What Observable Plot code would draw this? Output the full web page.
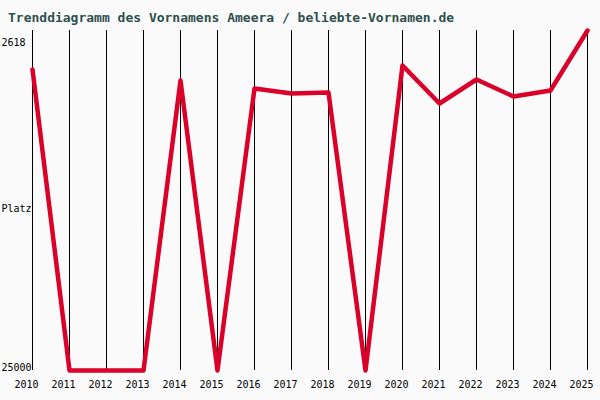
<!DOCTYPE html>
<html>
<head>
<meta charset="utf-8">
<script src="https://cdn.jsdelivr.net/npm/d3@7"></script>
<script src="https://cdn.jsdelivr.net/npm/@observablehq/plot@0.6"></script>
<style>
  html, body { margin: 0; padding: 0; background: #fafafa; }
  #wrap { width: 600px; height: 400px; overflow: hidden; background: #fafafa; }
  #title {
    box-sizing: border-box;
    height: 28px;
    padding: 11px 0 0 8px;
    font-family: "DejaVu Sans Mono", monospace;
    font-size: 13px;
    line-height: 13px;
    font-weight: bold;
    color: #2f4f4f;
    white-space: nowrap;
  }
  #chart svg { display: block; }
</style>
</head>
<body>
<div id="wrap">
  <div id="title"></div>
  <div id="chart"></div>
</div>
<script>
const titleText = "Trenddiagramm des Vornamens Ameera / beliebte-Vornamen.de";
const years = [2010, 2011, 2012, 2013, 2014, 2015, 2016, 2017, 2018, 2019, 2020, 2021, 2022, 2023, 2024, 2025];
const ranks = [5185, 25000, 25000, 25000, 5909, 25000, 6436, 6765, 6699, 25000, 4922, 7424, 5844, 6963, 6568, 2618];
const yTopValue = 2618;
const yBottomValue = 25000;
const yTopLabel = "2618";
const yBottomLabel = "25000";
const yAxisTitle = "Platz";

document.getElementById("title").textContent = titleText;

const data = years.map((year, i) => ({year, rank: ranks[i]}));

const chart = Plot.plot({
  width: 600,
  height: 372,
  marginTop: 2,
  marginBottom: 30,
  marginLeft: 32,
  marginRight: 13,
  style: {background: "#fafafa", fontFamily: "'DejaVu Sans Mono', monospace", fontSize: "10px", color: "#000"},
  x: {domain: [years[0], years[years.length - 1]], axis: null},
  y: {domain: [yTopValue, yBottomValue], reverse: true, axis: null},
  marks: [
    Plot.ruleX(years, {stroke: "#000", strokeWidth: 1, strokeOpacity: 1}),
    Plot.line(data, {x: "year", y: "rank", stroke: "#da0029", strokeWidth: 4.5}),
    Plot.text(years, {x: d => d, text: d => String(d), frameAnchor: "bottom", dy: 17, dx: -6, fill: "#000"}),
    Plot.text([yTopValue], {y: d => d, text: () => yTopLabel, frameAnchor: "left", textAnchor: "start", dx: -31, dy: 12, fill: "#000"}),
    Plot.text([yBottomValue], {y: d => d, text: () => yBottomLabel, frameAnchor: "left", textAnchor: "start", dx: -31, dy: -3, fill: "#000"}),
    Plot.text([yAxisTitle], {text: d => d, frameAnchor: "left", textAnchor: "start", dx: -31, dy: 8, fill: "#000"})
  ]
});
document.getElementById("chart").appendChild(chart);
</script>
</body>
</html>
